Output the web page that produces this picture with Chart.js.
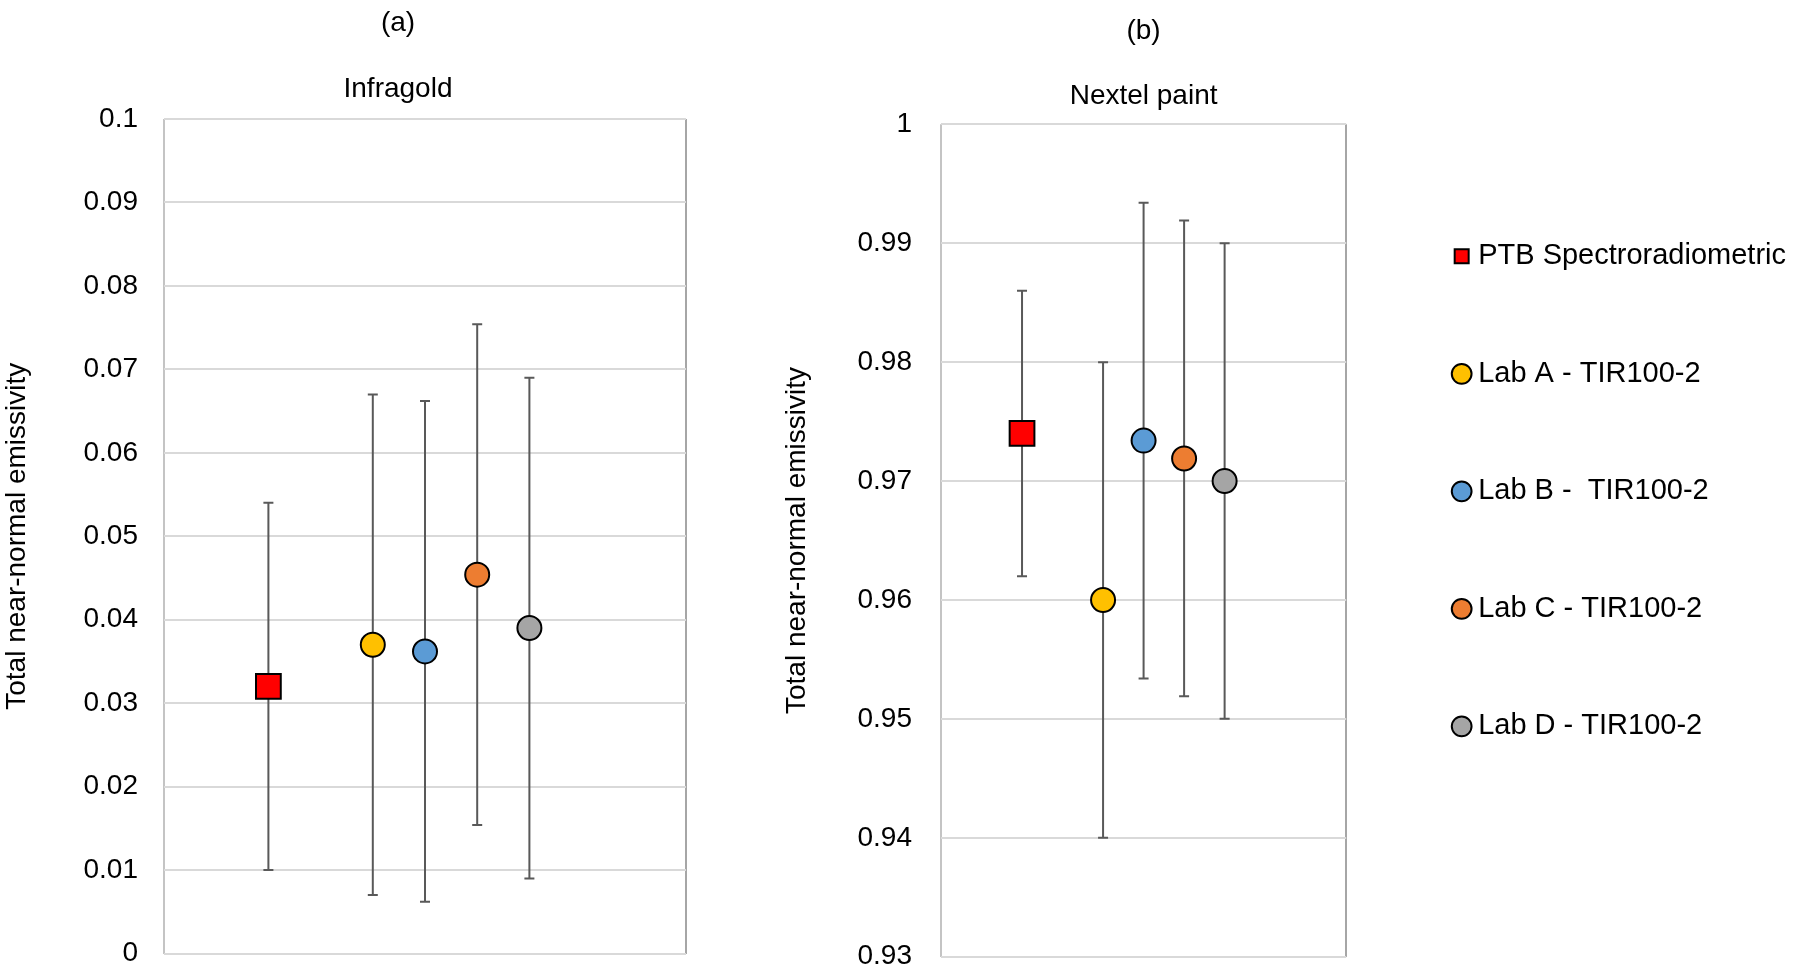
<!DOCTYPE html>
<html>
<head>
<meta charset="utf-8">
<script src="https://cdn.jsdelivr.net/npm/chart.js@4.4.1/dist/chart.umd.min.js"></script>
<style>
  html, body { margin: 0; padding: 0; background: #fff; overflow: hidden; }
  canvas { position: absolute; top: 0; }
  #infragold { left: 0; }
  #nextel { left: 780px; }
</style>
</head>
<body>
<canvas id="infragold" width="796" height="977"></canvas>
<canvas id="nextel" width="1022" height="977"></canvas>
<script>
// series / legend names
var labels = ['PTB Spectroradiometric', 'Lab A - TIR100-2', 'Lab B -  TIR100-2', 'Lab C - TIR100-2', 'Lab D - TIR100-2'];
var xPos = [1, 2, 2.5, 3, 3.5];

// (a) Infragold
var infragoldValues = [0.032, 0.037, 0.0362, 0.0454, 0.039];
var infragoldErrors = [0.022, 0.030, 0.030, 0.030, 0.030];
var infragoldTicks = [0, 0.01, 0.02, 0.03, 0.04, 0.05, 0.06, 0.07, 0.08, 0.09, 0.1];
var infragoldTickLabels = ['0', '0.01', '0.02', '0.03', '0.04', '0.05', '0.06', '0.07', '0.08', '0.09', '0.1'];

// (b) Nextel paint
var nextelValues = [0.974, 0.960, 0.9734, 0.9719, 0.970];
var nextelErrors = [0.012, 0.020, 0.020, 0.020, 0.020];
var nextelTicks = [0.93, 0.94, 0.95, 0.96, 0.97, 0.98, 0.99, 1];
var nextelTickLabels = ['0.93', '0.94', '0.95', '0.96', '0.97', '0.98', '0.99', '1'];

var colors = ['#FF0000', '#FFC000', '#5B9BD5', '#ED7D31', '#A5A5A5'];
var styles = ['rect', 'circle', 'circle', 'circle', 'circle'];
var radii = [17.5, 12, 12, 12, 12];

Chart.defaults.font.family = "'Liberation Sans', Arial, sans-serif";
Chart.defaults.font.size = 28;
Chart.defaults.color = '#000';

// vertical error bars drawn under the markers
var errorBars = {
    id: 'errorBars',
    beforeDatasetsDraw: function(chart) {
        var ctx = chart.ctx;
        var xs = chart.scales.x, ys = chart.scales.y;
        ctx.save();
        ctx.strokeStyle = '#595959';
        ctx.lineWidth = 2;
        chart.data.datasets.forEach(function(ds) {
            ds.data.forEach(function(p) {
                var x = xs.getPixelForValue(p.x);
                var top = ys.getPixelForValue(p.y + ds.err);
                var bot = ys.getPixelForValue(p.y - ds.err);
                ctx.beginPath();
                ctx.moveTo(x, top); ctx.lineTo(x, bot);
                ctx.moveTo(x - 5, top); ctx.lineTo(x + 5, top);
                ctx.moveTo(x - 5, bot); ctx.lineTo(x + 5, bot);
                ctx.stroke();
            });
        });
        ctx.restore();
    }
};

function makeDatasets(values, errors) {
    return labels.map(function(name, i) {
        return {
            label: name,
            data: [{ x: xPos[i], y: values[i] }],
            err: errors[i],
            pointStyle: styles[i],
            pointRadius: radii[i],
            pointHoverRadius: radii[i],
            backgroundColor: colors[i],
            borderColor: '#000',
            borderWidth: 2
        };
    });
}

// x axis only gives the left/right frame of the plot
function xScale() {
    return {
        type: 'linear', min: 0, max: 5,
        ticks: { display: false, stepSize: 5 },
        grid: {
            color: function(c) { return c.index === 0 ? '#c4c4c4' : '#a6a6a6'; },
            lineWidth: 2, drawTicks: false
        },
        border: { display: false }
    };
}

function yScale(min, max, tickVals, tickLabels, width, gap) {
    return {
        type: 'linear', min: min, max: max,
        afterBuildTicks: function(s) { s.ticks = tickVals.map(function(v) { return { value: v }; }); },
        afterFit: function(s) { s.width = width; },
        ticks: { padding: 0, callback: function(v, i) { return tickLabels[i]; } },
        grid: { color: '#d9d9d9', lineWidth: 2, drawTicks: true, tickLength: gap, tickColor: 'rgba(0,0,0,0)' },
        border: { display: false },
        title: { display: true, text: 'Total near-normal emissivity', padding: 0 }
    };
}

// empty spacer axis on the right side of a plot
function spacer(width) {
    return {
        position: 'right',
        ticks: { display: false },
        grid: { display: false },
        border: { display: false },
        afterFit: function(s) { s.width = width; }
    };
}

new Chart(document.getElementById('infragold'), {
    type: 'scatter',
    data: { datasets: makeDatasets(infragoldValues, infragoldErrors) },
    options: {
        responsive: false,
        animation: false,
        layout: { padding: { left: 0, right: 0, top: 0, bottom: 23.5 } },
        scales: {
            x: xScale(),
            y: yScale(0, 0.1, infragoldTicks, infragoldTickLabels, 164, 26),
            yR: spacer(110)
        },
        plugins: {
            legend: { display: false },
            tooltip: { enabled: false },
            title: { display: true, text: '(a)', font: { weight: 'normal' }, padding: { top: 6, bottom: 20 } },
            subtitle: { display: true, text: 'Infragold', color: '#000', font: { size: 28 }, padding: { top: 12.6, bottom: 13.2 } }
        }
    },
    plugins: [errorBars]
});

new Chart(document.getElementById('nextel'), {
    type: 'scatter',
    data: { datasets: makeDatasets(nextelValues, nextelErrors) },
    options: {
        responsive: false,
        animation: false,
        layout: { padding: { left: 0, right: 6, top: 12, bottom: 20.3 } },
        scales: {
            x: xScale(),
            y: yScale(0.93, 1, nextelTicks, nextelTickLabels, 161, 29),
            yR: spacer(25)
        },
        plugins: {
            legend: {
                position: 'right',
                align: 'center',
                maxWidth: 600,
                title: { display: true, text: ' ', font: { size: 5 }, padding: 4 },
                labels: { usePointStyle: true, boxWidth: 4, boxHeight: 14, padding: 88.5, color: '#000', font: { size: 29 } }
            },
            tooltip: { enabled: false },
            title: { display: true, fullSize: false, text: '(b)', font: { weight: 'normal' }, padding: { top: 2.2, bottom: 20 } },
            subtitle: { display: true, fullSize: false, text: 'Nextel paint', color: '#000', font: { size: 28 }, padding: { top: 11.4, bottom: 11.5 } }
        }
    },
    plugins: [errorBars]
});
</script>
</body>
</html>
